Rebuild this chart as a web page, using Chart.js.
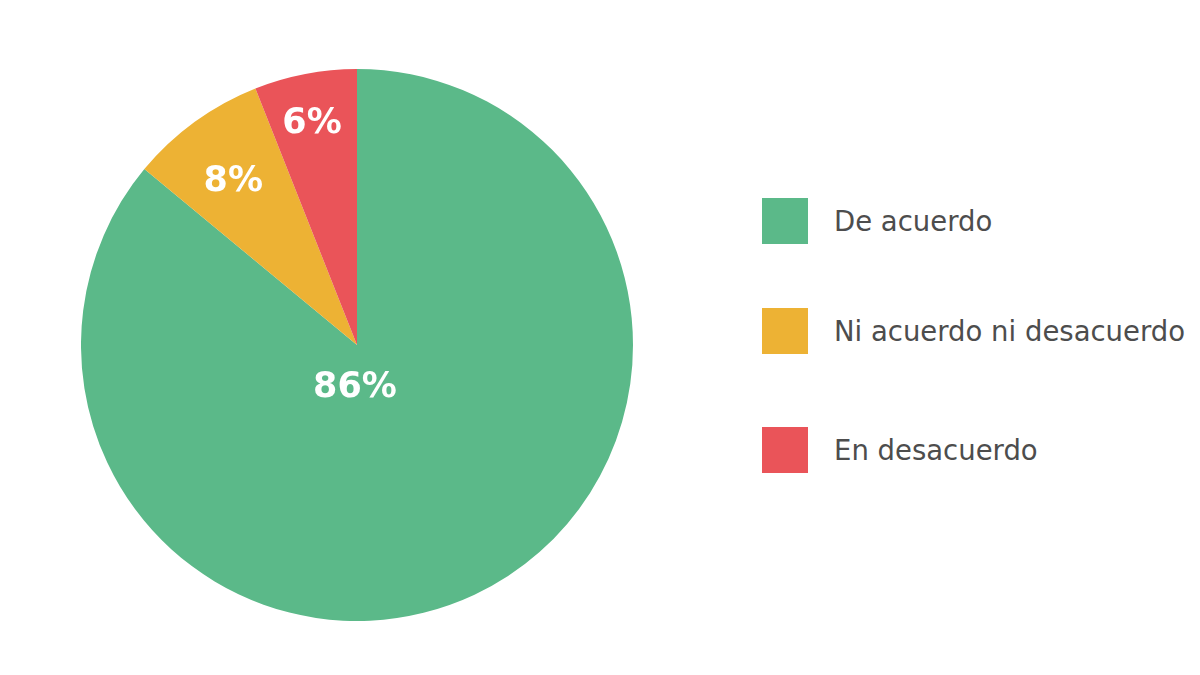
<!DOCTYPE html>
<html>
<head>
<meta charset="utf-8">
<script src="https://cdn.jsdelivr.net/npm/chart.js@4"></script>
<style>
  body { margin: 0; background: #fff; width: 1200px; height: 675px; position: relative; overflow: hidden; }
  #pieBox { position: absolute; left: 81px; top: 69px; width: 552px; height: 552px; }
  #legend { position: absolute; left: 762px; top: 198px; font-family: "DejaVu Sans", sans-serif; }
  .item { display: flex; align-items: center; height: 46px; margin-bottom: 64px; }
  .item:nth-child(2) { margin-bottom: 73px; }
  .box { width: 46px; height: 46px; margin-right: 26px; }
  .txt { font-size: 27.5px; color: #4d4d4d; white-space: nowrap; }
</style>
</head>
<body>
<div id="pieBox"><canvas id="pie"></canvas></div>
<div id="legend"></div>
<script>
const categories = ["De acuerdo", "Ni acuerdo ni desacuerdo", "En desacuerdo"];
const values = [86, 8, 6];
const sliceColors = ["rgb(91,185,137)", "rgb(237,178,52)", "rgb(234,84,89)"];

// percent labels drawn on the slices
const sliceLabels = {
  id: "sliceLabels",
  afterDatasetsDraw(chart) {
    const ctx = chart.ctx;
    const meta = chart.getDatasetMeta(0);
    ctx.save();
    ctx.fillStyle = "#fff";
    ctx.font = "bold 35px 'DejaVu Sans', sans-serif";
    ctx.textAlign = "center";
    ctx.textBaseline = "middle";
    meta.data.forEach((arc, i) => {
      const mid = (arc.startAngle + arc.endAngle) / 2;
      let x, y;
      if (values[i] > 50) {
        x = arc.x;
        y = arc.y + arc.outerRadius * 0.14;
      } else {
        const f = i === 1 ? 0.75 : 0.83;
        x = arc.x + Math.cos(mid) * arc.outerRadius * f;
        y = arc.y + Math.sin(mid) * arc.outerRadius * f;
      }
      ctx.fillText(values[i] + "%", x - 2, y + 4);
    });
    ctx.restore();
  }
};

new Chart(document.getElementById("pie"), {
  type: "pie",
  data: {
    labels: categories,
    datasets: [{
      data: values,
      backgroundColor: sliceColors,
      borderWidth: 0
    }]
  },
  options: {
    responsive: true,
    maintainAspectRatio: false,
    animation: false,
    layout: { padding: 0 },
    plugins: {
      legend: { display: false },
      tooltip: { enabled: false }
    }
  },
  plugins: [sliceLabels]
});

const legend = document.getElementById("legend");
categories.forEach((name, i) => {
  const item = document.createElement("div");
  item.className = "item";
  const box = document.createElement("div");
  box.className = "box";
  box.style.background = sliceColors[i];
  const txt = document.createElement("div");
  txt.className = "txt";
  txt.textContent = name;
  item.append(box, txt);
  legend.appendChild(item);
});
</script>
</body>
</html>
